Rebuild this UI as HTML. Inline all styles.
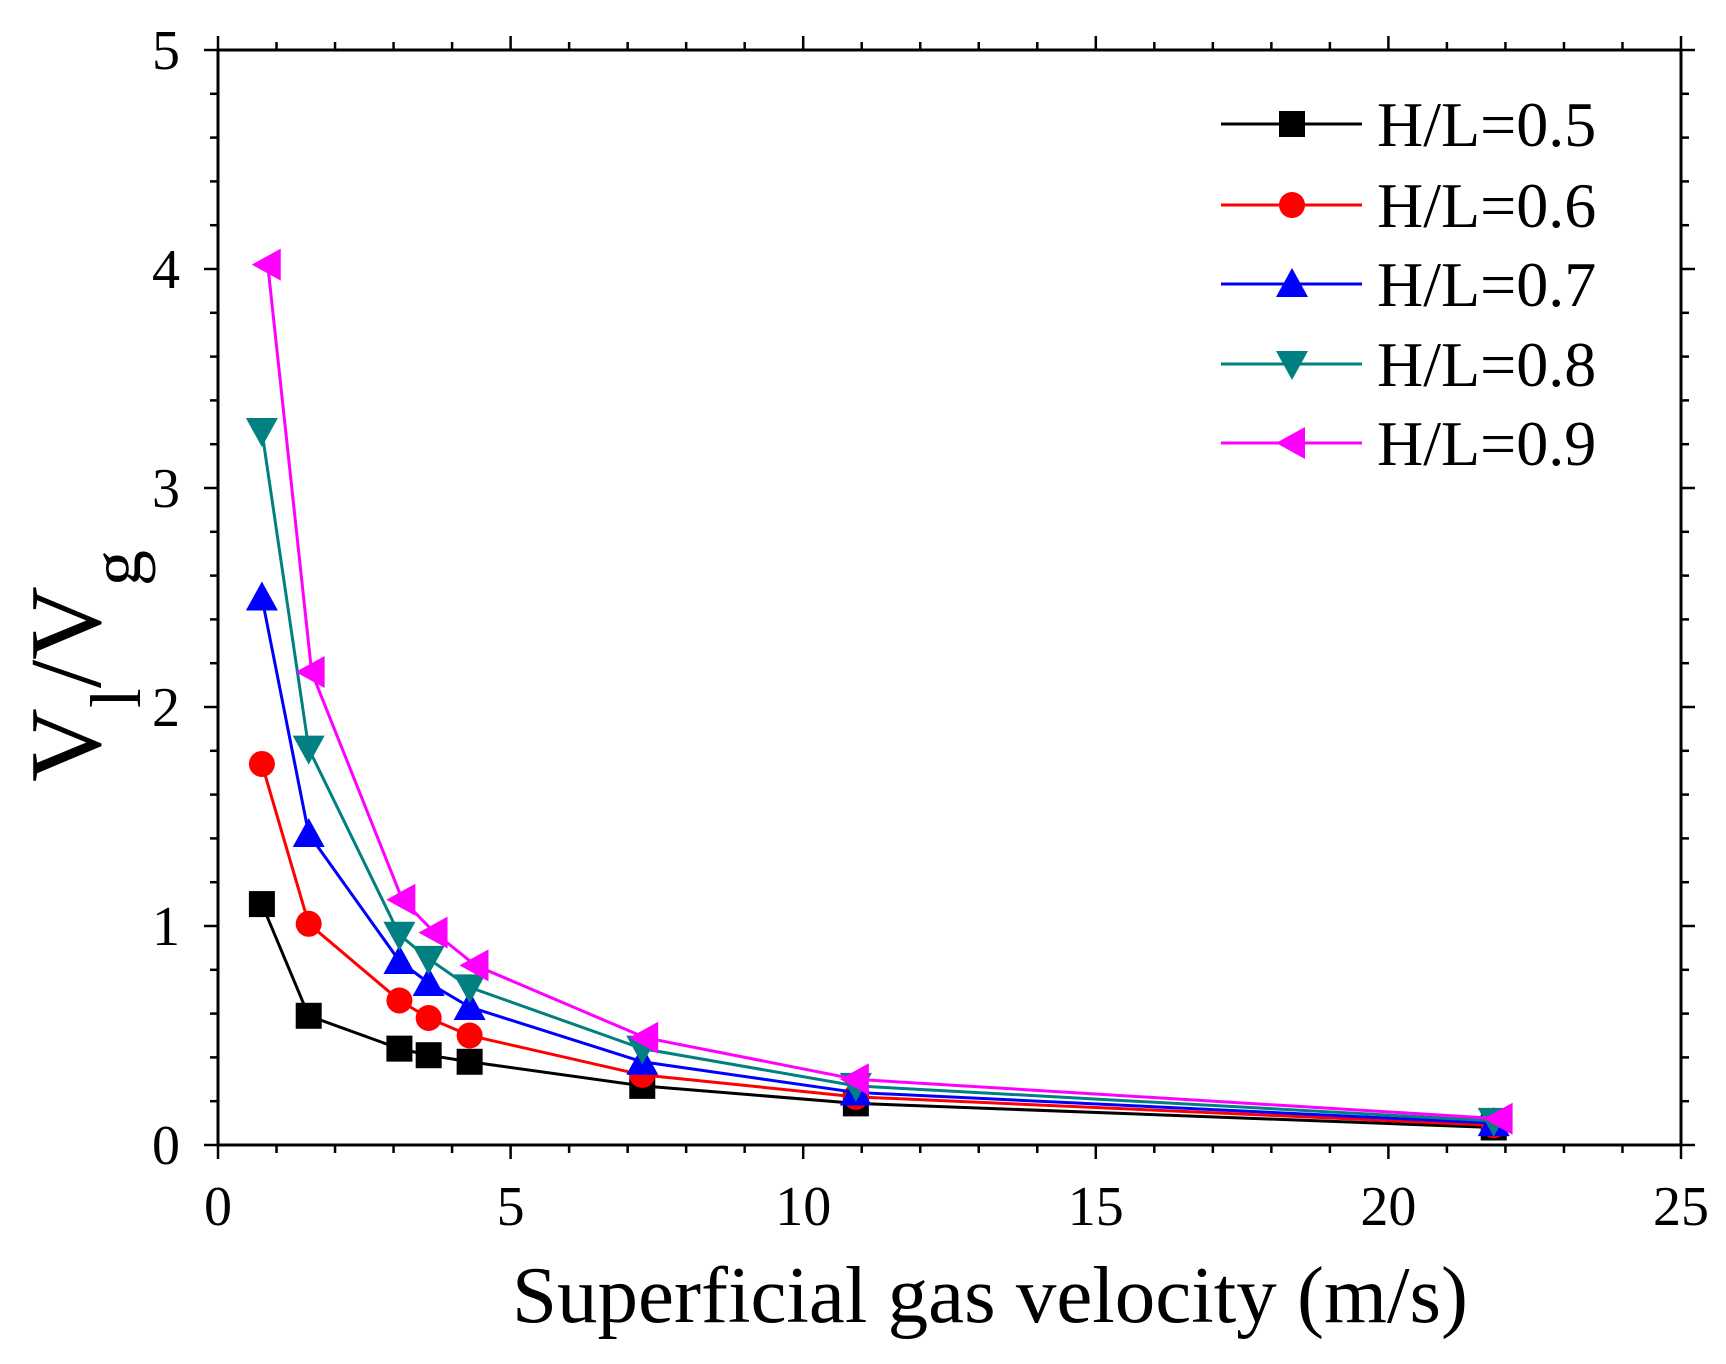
<!DOCTYPE html>
<html><head><meta charset="utf-8"><style>
html,body{margin:0;padding:0;background:#fff}
svg{display:block;font-family:"Liberation Serif",serif}
</style></head><body>
<svg id="c" width="1726" height="1364" viewBox="0 0 1726 1364"></svg>
<script>
const xs=[0.75,1.55,3.1,3.6,4.3,7.25,10.9,21.8];
const xsMag=[0.85,1.6,3.15,3.7,4.4,7.3,10.9,21.9];
const s05=[1.1,0.59,0.44,0.41,0.38,0.27,0.19,0.08];
const s06=[1.74,1.01,0.66,0.58,0.5,0.32,0.22,0.09];
const s07=[2.5,1.42,0.84,0.74,0.63,0.38,0.24,0.10];
const s08=[3.26,1.81,0.96,0.85,0.72,0.44,0.27,0.11];
const s09=[4.02,2.16,1.12,0.97,0.82,0.49,0.30,0.12];
const xTicks=[0,5,10,15,20,25];
const yTicks=[0,1,2,3,4,5];
const labels=["H/L=0.5","H/L=0.6","H/L=0.7","H/L=0.8","H/L=0.9"];
const L=218,R=1681,T=50,B=1145;
const X=v=>L+(v/25)*(R-L), Y=v=>B-(v/5)*(B-T);
const svg=document.getElementById('c');const NS='http://www.w3.org/2000/svg';
function el(t,a,p){const e=document.createElementNS(NS,t);for(const k in a)e.setAttribute(k,a[k]);(p||svg).appendChild(e);return e;}
const ax=el('g',{});


el('rect',{x:L,y:T,width:R-L,height:B-T,fill:'none',stroke:'#000','stroke-width':3},ax);
for(let v=0;v<=25;v+=1){const major=v%5===0,len=major?14:8;
 el('line',{x1:X(v),x2:X(v),y1:B,y2:B+len,stroke:'#000','stroke-width':2.5},ax);
 el('line',{x1:X(v),x2:X(v),y1:T,y2:T-len,stroke:'#000','stroke-width':2.5},ax);}
for(let i=0;i<=25;i++){const v=i*0.2,major=i%5===0,len=major?14:8;
 el('line',{x1:L,x2:L-len,y1:Y(v),y2:Y(v),stroke:'#000','stroke-width':2.5},ax);
 el('line',{x1:R,x2:R+len,y1:Y(v),y2:Y(v),stroke:'#000','stroke-width':2.5},ax);}
xTicks.forEach(v=>{const t=el('text',{x:X(v),y:1225,'font-size':56,'text-anchor':'middle'},ax);t.textContent=v;
 
 });
yTicks.forEach(v=>{const t=el('text',{x:180,y:Y(v)+19,'font-size':56,'text-anchor':'end'},ax);t.textContent=v;
 
 });
const xt=el('text',{x:990,y:1322,'font-size':81,'text-anchor':'middle'});xt.textContent='Superficial gas velocity (m/s)';


const yt=el('text',{x:0,y:0,'font-size':102,'text-anchor':'middle',transform:'translate(100,666) rotate(-90)'});
yt.innerHTML='V<tspan baseline-shift="sub" font-size="72">l</tspan>/V<tspan baseline-shift="sub" font-size="72">g</tspan>';


function marker(type,cx,cy,col,g){const s=13;
 if(type==='sq')return el('rect',{x:cx-s,y:cy-s,width:2*s,height:2*s,fill:col},g);
 if(type==='ci')return el('circle',{cx,cy,r:s,fill:col},g);
 if(type==='up')return el('polygon',{points:`${cx},${cy-s-3} ${cx-s-3},${cy+s} ${cx+s+3},${cy+s}`,fill:col},g);
 if(type==='dn')return el('polygon',{points:`${cx},${cy+s+3} ${cx-s-3},${cy-s} ${cx+s+3},${cy-s}`,fill:col},g);
 return el('polygon',{points:`${cx-s-3},${cy} ${cx+s},${cy-s-3} ${cx+s},${cy+s+3}`,fill:col},g);}
const series=[[xs,s05,'#000','sq'],[xs,s06,'#ff0000','ci'],[xs,s07,'#0000ff','up'],[xs,s08,'#008080','dn'],[xsMag,s09,'#ff00ff','le']];
const legY=[124,205,284,364,443];
series.forEach((s,i)=>{const g=el('g',{});
 
 
 el('polyline',{points:s[0].map((x,j)=>X(x)+','+Y(s[1][j])).join(' '),fill:'none',stroke:s[2],'stroke-width':3},g);
 s[0].forEach((x,j)=>{const m=marker(s[3],X(x),Y(s[1][j]),s[2],g);
  
  });
 const lg=el('g',{});
 
 
 el('line',{x1:1221,x2:1362,y1:legY[i],y2:legY[i],stroke:s[2],'stroke-width':3},lg);
 marker(s[3],1292,legY[i],s[2],lg);
 const t=el('text',{x:1377,y:legY[i]+22,'font-size':64},lg);t.textContent=labels[i];});
</script>
</body></html>
